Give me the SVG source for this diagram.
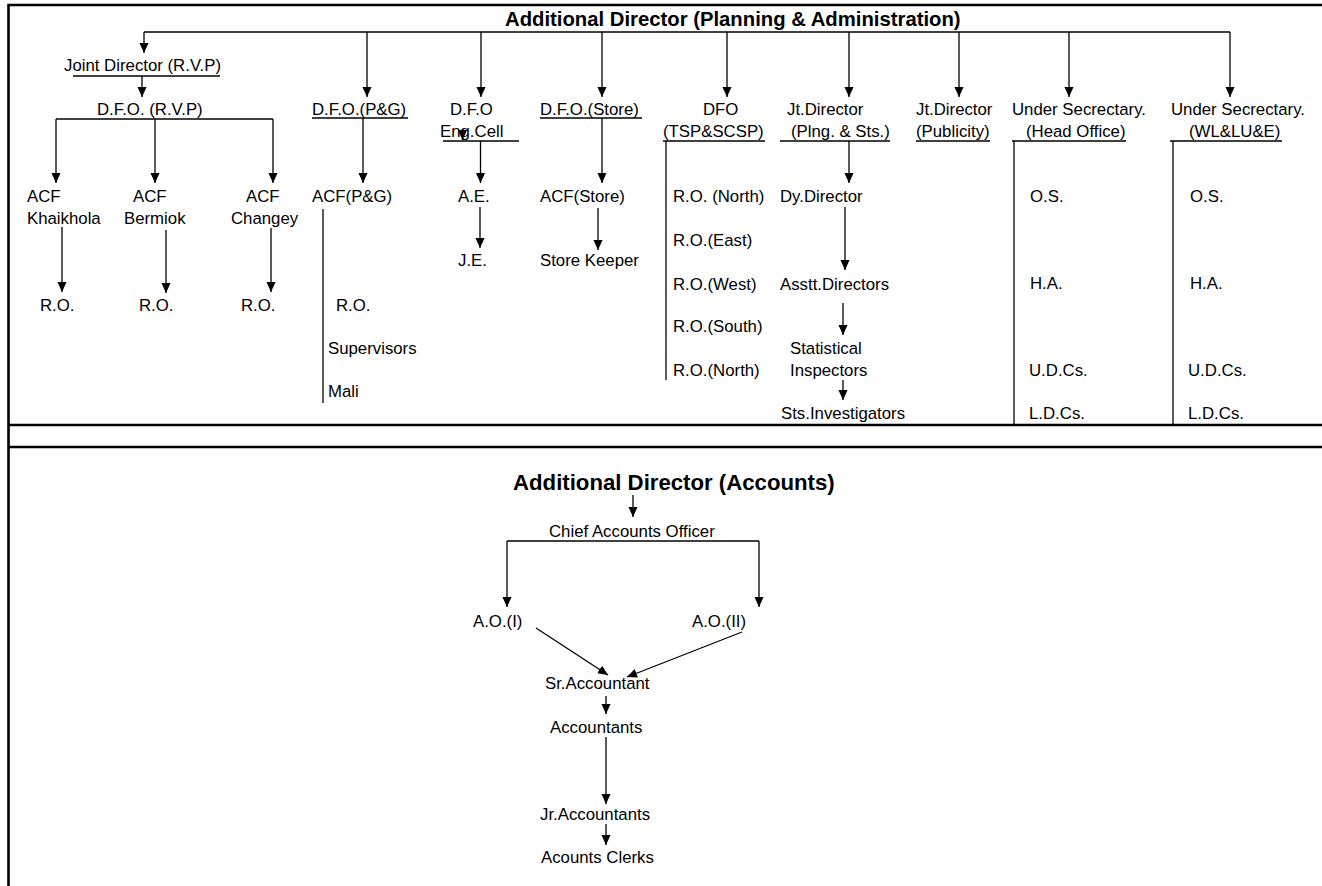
<svg xmlns="http://www.w3.org/2000/svg" width="1322" height="886" viewBox="0 0 1322 886">
<style>
text{font-family:"Liberation Sans",Arial,sans-serif;font-size:16.8px;fill:#000}
.t{font-weight:bold;font-size:20.3px}
.t2{font-weight:bold;font-size:22.2px}
.c{stroke:#000;stroke-width:1.3;fill:none}
.a{stroke:#000;stroke-width:1.3;fill:none;marker-end:url(#ah)}
.u{stroke:#000;stroke-width:1.3}
.f{stroke:#000;stroke-width:2.6;fill:none}
</style>
<defs>
<marker id="ah" markerWidth="10" markerHeight="11" refX="11" refY="5" orient="auto" markerUnits="userSpaceOnUse" viewBox="0 0 11 10"><path d="M0,0 L11,5 L0,10 z" fill="#000"/></marker>
</defs>
<rect width="1322" height="886" fill="#fff"/>
<g id="frame">
<path class="f" d="M8.5,886 L8.5,5 L1322,5"/>
<path class="f" d="M8.5,425 L1322,425 M8.5,447 L1322,447"/>
</g>
<g id="connectors">
<path class="c" d="M144,32 L1230,32"/>
<path class="a" d="M144,32 L144,53"/>
<path class="a" d="M367,32 L367,97"/>
<path class="a" d="M481,32 L481,97"/>
<path class="a" d="M602,32 L602,97"/>
<path class="a" d="M727,32 L727,97"/>
<path class="a" d="M849,32 L849,97"/>
<path class="a" d="M959,32 L959,97"/>
<path class="a" d="M1069,32 L1069,97"/>
<path class="a" d="M1230,32 L1230,97"/>
<path class="a" d="M142,76 L142,97"/>
<path class="c" d="M56,119 L273,119"/>
<path class="a" d="M56,119 L56,183"/>
<path class="a" d="M155,119 L155,183"/>
<path class="a" d="M273,119 L273,183"/>
<path class="a" d="M363,118 L363,183"/>
<path class="a" d="M480.5,141 L480.5,183"/>
<path class="a" d="M462.5,129 L462.5,140"/>
<path class="a" d="M602,118 L602,183"/>
<path class="c" d="M666,141 L666,380"/>
<path class="a" d="M849,141 L849,183"/>
<path class="c" d="M1014,141 L1014,425"/>
<path class="c" d="M1173,141 L1173,425"/>
<path class="a" d="M62,227 L62,292"/>
<path class="a" d="M166,230 L166,293"/>
<path class="a" d="M271,228 L271,292"/>
<path class="c" d="M323,209 L323,403"/>
<path class="a" d="M480,207 L480,248"/>
<path class="a" d="M598,208 L598,250"/>
<path class="a" d="M845,207 L845,270"/>
<path class="a" d="M843,303 L843,335"/>
<path class="a" d="M843,380 L843,400"/>
<path class="a" d="M633,495 L633,517"/>
<path class="a" d="M507,541 L507,607"/>
<path class="c" d="M507,541 L759,541"/>
<path class="a" d="M759,541 L759,607"/>
<path class="a" d="M536,628 L608,675"/>
<path class="a" d="M742,632 L627,677"/>
<path class="a" d="M606,696 L606,714"/>
<path class="a" d="M606,737 L606,804"/>
<path class="a" d="M606,824 L606,845"/>
</g>
<g id="n-addl-pa"><text class="t" x="505" y="26">Additional Director (Planning &amp; Administration)</text></g>
<g id="n-jd-rvp"><text x="64" y="71">Joint Director (R.V.P)</text><line class="u" x1="73" y1="76" x2="220" y2="76"/></g>
<g id="n-dfo-rvp"><text x="97" y="115">D.F.O. (R.V.P)</text></g>
<g id="n-dfo-pg"><text x="312" y="115">D.F.O.(P&amp;G)</text><line class="u" x1="312" y1="118" x2="408" y2="118"/></g>
<g id="n-dfo-eng"><text x="450" y="115">D.F.O</text><text x="440" y="137">Eng.Cell</text><line class="u" x1="443" y1="141" x2="519" y2="141"/></g>
<g id="n-dfo-store"><text x="540" y="115">D.F.O.(Store)</text><line class="u" x1="540" y1="118" x2="642" y2="118"/></g>
<g id="n-dfo-tsp"><text x="703" y="115">DFO</text><text x="663" y="137">(TSP&amp;SCSP)</text><line class="u" x1="663" y1="141" x2="765" y2="141"/></g>
<g id="n-jd-plng"><text x="787" y="115">Jt.Director</text><text x="791" y="137">(Plng. &amp; Sts.)</text><line class="u" x1="780" y1="141" x2="890" y2="141"/></g>
<g id="n-jd-pub"><text x="916" y="115">Jt.Director</text><text x="916" y="137">(Publicity)</text><line class="u" x1="916" y1="141" x2="990" y2="141"/></g>
<g id="n-us-ho"><text x="1012" y="115">Under Secrectary.</text><text x="1026" y="137">(Head Office)</text><line class="u" x1="1012" y1="141" x2="1126" y2="141"/></g>
<g id="n-us-wl"><text x="1171" y="115">Under Secrectary.</text><text x="1189" y="137">(WL&amp;LU&amp;E)</text><line class="u" x1="1170" y1="141" x2="1282" y2="141"/></g>
<g id="n-acf-k"><text x="27" y="202">ACF</text><text x="27" y="224">Khaikhola</text></g>
<g id="n-acf-b"><text x="133" y="202">ACF</text><text x="124" y="224">Bermiok</text></g>
<g id="n-acf-c"><text x="246" y="202">ACF</text><text x="231" y="224">Changey</text></g>
<g id="n-acf-pg"><text x="312" y="202">ACF(P&amp;G)</text></g>
<g id="n-ae"><text x="458" y="202">A.E.</text></g>
<g id="n-acf-store"><text x="540" y="202">ACF(Store)</text></g>
<g id="n-ro-north"><text x="673" y="202">R.O. (North)</text></g>
<g id="n-dy"><text x="780" y="202">Dy.Director</text></g>
<g id="n-os-ho"><text x="1030" y="202">O.S.</text></g>
<g id="n-os-wl"><text x="1190" y="202">O.S.</text></g>
<g id="n-je"><text x="458" y="266">J.E.</text></g>
<g id="n-sk"><text x="540" y="266">Store Keeper</text></g>
<g id="n-ro-east"><text x="673" y="246">R.O.(East)</text></g>
<g id="n-ro-west"><text x="673" y="290">R.O.(West)</text></g>
<g id="n-asstt"><text x="780" y="290">Asstt.Directors</text></g>
<g id="n-ha-ho"><text x="1030" y="289">H.A.</text></g>
<g id="n-ha-wl"><text x="1190" y="289">H.A.</text></g>
<g id="n-ro-k"><text x="40" y="311">R.O.</text></g>
<g id="n-ro-b"><text x="139" y="311">R.O.</text></g>
<g id="n-ro-c"><text x="241" y="311">R.O.</text></g>
<g id="n-ro-pg"><text x="336" y="311">R.O.</text></g>
<g id="n-ro-south"><text x="673" y="332">R.O.(South)</text></g>
<g id="n-sup"><text x="328" y="354">Supervisors</text></g>
<g id="n-si"><text x="790" y="354">Statistical</text><text x="790" y="376">Inspectors</text></g>
<g id="n-ro-north2"><text x="673" y="376">R.O.(North)</text></g>
<g id="n-udc-ho"><text x="1029" y="376">U.D.Cs.</text></g>
<g id="n-udc-wl"><text x="1188" y="376">U.D.Cs.</text></g>
<g id="n-mali"><text x="328" y="397">Mali</text></g>
<g id="n-sts"><text x="781" y="419">Sts.Investigators</text></g>
<g id="n-ldc-ho"><text x="1029" y="419">L.D.Cs.</text></g>
<g id="n-ldc-wl"><text x="1188" y="419">L.D.Cs.</text></g>
<g id="n-addl-acc"><text class="t2" x="513" y="490">Additional Director (Accounts)</text></g>
<g id="n-cao"><text x="549" y="537">Chief Accounts Officer</text></g>
<g id="n-ao1"><text x="473" y="627">A.O.(I)</text></g>
<g id="n-ao2"><text x="692" y="627">A.O.(II)</text></g>
<g id="n-sra"><text x="545" y="689">Sr.Accountant</text></g>
<g id="n-acc"><text x="550" y="733">Accountants</text></g>
<g id="n-jra"><text x="540" y="820">Jr.Accountants</text></g>
<g id="n-clerks"><text x="541" y="863">Acounts Clerks</text></g>
</svg>
